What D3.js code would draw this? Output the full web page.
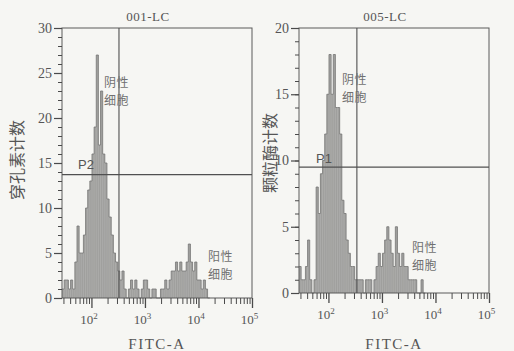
<!DOCTYPE html>
<html>
<head>
<meta charset="utf-8">
<script src="https://cdn.jsdelivr.net/npm/d3@7"></script>
<style>
  html, body { margin: 0; padding: 0; background: #f6f6f3; }
  svg { display: block; }
</style>
</head>
<body>
<svg id="chart" width="514" height="351"></svg>
<script>
/* histogram binning, log10 of FITC-A */
const binStartLog = 1.45
const binWidthLog = 0.04

/* counts per bin */
const countsLC001 = [
  1, 2, 2, 1, 2, 1, 4, 8, 5, 5, 7, 10, 12, 13, 16, 19, 27, 17, 23, 16,
  15, 11, 9, 7, 5, 4, 3, 2, 3, 1, 0, 1, 2, 1, 2, 1, 0, 1, 2, 2,
  1, 0, 1, 1, 0, 0, 1, 1, 2, 1, 2, 3, 3, 4, 3, 4, 3, 3, 4, 6,
  4, 3, 4, 2, 2, 1, 2, 1, 0
]
const countsLC005 = [
  2, 1, 1, 2, 4, 1, 0, 1, 8, 6, 9, 10, 12, 15, 18, 15, 18, 14, 14, 12,
  7, 6, 4, 3, 2, 2, 1, 1, 1, 1, 0, 1, 1, 1, 0, 1, 2, 3, 2, 3,
  4, 5, 4, 3, 2, 5, 3, 2, 3, 2, 2, 1, 1, 1, 1, 0, 0, 1, 0
]

const titles = ["001-LC", "005-LC"]
const yLabels = ["穿孔素计数", "颗粒酶计数"]
const yMax = [30, 20]
const gateCount = [13.7, 9.5]
const gateFitc = [327, 340]
const gateNames = ["P2", "P1"]
const xMajorTicks = [1e2, 1e3, 1e4, 1e5]
const xMajorExp = ["2", "3", "4", "5"]

/* Chart layout for the two panels */
const panels = [
  { left: 62, right: 252, top: 28, bottom: 298, counts: countsLC001,
    neg: [104, 87], pos: [208, 261], ylab: 17, ylabY: 160, gateLab: [78, 169] },
  { left: 299, right: 489, top: 28, bottom: 293, counts: countsLC005,
    neg: [342, 84], pos: [412, 252], ylab: 270, ylabY: 153, gateLab: [316, 163] }
]

const ink = "#4a4a4a"
const serif = "'Liberation Serif', 'DejaVu Serif', serif"
const cjk = "'Noto Sans CJK SC', sans-serif"

const svg = d3.select("#chart")

function drawPanel(p, k) {
  const g = svg.append("g")
  const x = d3.scaleLog([Math.pow(10, binStartLog), 1e5], [p.left, p.right])
  const y = d3.scaleLinear([0, yMax[k]], [p.bottom, p.top])

  /* histogram as a step area */
  const bins = p.counts.map((c, i) => [Math.pow(10, binStartLog + i * binWidthLog), c])
  bins.push([Math.pow(10, binStartLog + p.counts.length * binWidthLog), 0])

  const area = d3.area()
  .x(d => x(d[0]))
  .y0(y(0))
  .y1(d => y(d[1]))
  .curve(d3.curveStepAfter)

  const line = d3.line()
  .x(d => x(d[0]))
  .y(d => y(d[1]))
  .curve(d3.curveStepAfter)

  g.append("path")
  .attr("fill", "#ababa9")
  .attr("d", area(bins))

  /* thin darker strokes inside the bars, like the scanned spikes */
  g.append("g")
  .selectAll("line")
  .data(bins.filter(d => d[1] > 0))
  .join("line")
  .attr("x1", d => x(d[0] * Math.pow(10, binWidthLog / 2)))
  .attr("x2", d => x(d[0] * Math.pow(10, binWidthLog / 2)))
  .attr("y1", y(0))
  .attr("y2", d => y(d[1]))
  .attr("stroke", "#939391")
  .attr("stroke-width", 0.5)

  g.append("path")
  .attr("fill", "none")
  .attr("stroke", "#757573")
  .attr("stroke-width", 0.8)
  .attr("d", line(bins))

  /* plot frame */
  g.append("rect")
  .attr("x", p.left)
  .attr("y", p.top)
  .attr("width", p.right - p.left)
  .attr("height", p.bottom - p.top)
  .attr("fill", "none")
  .attr("stroke", "#5a5a5a")
  .attr("stroke-width", 1)

  /* gate lines */
  g.append("line")
  .attr("x1", p.left).attr("x2", p.right)
  .attr("y1", y(gateCount[k])).attr("y2", y(gateCount[k]))
  .attr("stroke", "#505050").attr("stroke-width", 1.3)
  g.append("line")
  .attr("x1", x(gateFitc[k])).attr("x2", x(gateFitc[k]))
  .attr("y1", p.top).attr("y2", p.bottom)
  .attr("stroke", "#505050").attr("stroke-width", 1.1)

  /* y axis: minor ticks each count, major every 5 */
  g.append("g")
  .attr("transform", `translate(${p.left},0)`)
  .call(d3.axisLeft(y).tickValues(d3.range(0, yMax[k] + 1)).tickSize(4).tickFormat(""))
  .call(a => a.select(".domain").remove())
  .call(a => a.selectAll(".tick line").attr("stroke", ink))

  g.append("g")
  .attr("transform", `translate(${p.left},0)`)
  .call(d3.axisLeft(y).tickValues(d3.range(0, yMax[k] + 1, 5)).tickSize(8).tickPadding(2))
  .call(a => a.select(".domain").remove())
  .call(a => a.selectAll(".tick line").attr("stroke", ink).attr("stroke-width", 1.2))
  .call(a => a.selectAll(".tick text")
    .attr("font-family", serif).attr("font-size", 14).attr("fill", "#555"))

  /* x axis: minor ticks 2..9 per decade, decades labelled 10^n */
  const minor = []
  for (let e = 1; e < 5; e++) {
    for (let m = 2; m <= 9; m++) {
      const v = m * Math.pow(10, e)
      if (v >= x.domain()[0] && v <= 1e5) minor.push(v)
    }
  }
  g.append("g")
  .attr("transform", `translate(0,${p.bottom})`)
  .call(d3.axisBottom(x).tickValues(minor).tickSize(6).tickFormat(""))
  .call(a => a.select(".domain").remove())
  .call(a => a.selectAll(".tick line").attr("stroke", ink))

  const xMaj = g.append("g")
  .attr("transform", `translate(0,${p.bottom})`)
  .call(d3.axisBottom(x).tickValues(xMajorTicks).tickSize(10).tickPadding(7).tickFormat(""))
  .call(a => a.select(".domain").remove())
  .call(a => a.selectAll(".tick line").attr("stroke", ink).attr("stroke-width", 1.3))

  xMaj.selectAll(".tick text")
  .attr("font-family", serif).attr("font-size", 13).attr("fill", "#555")
  .attr("dx", -3)
  .each(function(d, i) {
    const t = d3.select(this)
    t.append("tspan").text("10")
    t.append("tspan").attr("dy", -5).attr("font-size", 9).text(xMajorExp[i])
  })

  /* axis titles */
  g.append("text")
  .attr("x", (p.left + p.right) / 2 - 9)
  .attr("y", 21)
  .attr("text-anchor", "middle")
  .attr("font-family", serif)
  .attr("font-size", 13)
  .attr("fill", "#555")
  .attr("letter-spacing", 0.5)
  .text(titles[k])

  g.append("text")
  .attr("x", (p.left + p.right) / 2)
  .attr("y", 349)
  .attr("text-anchor", "middle")
  .attr("font-family", serif)
  .attr("font-size", 15)
  .attr("fill", "#555")
  .attr("letter-spacing", 1.5)
  .text("FITC-A")

  g.append("text")
  .attr("transform", `translate(${p.ylab},${p.ylabY}) rotate(-90)`)
  .attr("text-anchor", "middle")
  .attr("dy", "0.35em")
  .attr("font-family", cjk)
  .attr("font-size", 16)
  .attr("fill", "#555")
  .text(yLabels[k])

  /* region notes, one text per line */
  const note = (pos, lines) => {
    g.append("g")
    .selectAll("text")
    .data(lines)
    .join("text")
    .attr("x", pos[0])
    .attr("y", (d, i) => pos[1] + i * 17.6)
    .attr("font-family", cjk)
    .attr("font-size", 12)
    .attr("letter-spacing", 0.5)
    .attr("fill", "#707070")
    .text(d => d)
  }
  note(p.neg, ["阴性", "细胞"])
  note(p.pos, ["阳性", "细胞"])

  g.append("text")
  .attr("x", p.gateLab[0])
  .attr("y", p.gateLab[1])
  .attr("font-family", "'Liberation Sans', sans-serif")
  .attr("font-size", 13)
  .attr("fill", "#555")
  .text(gateNames[k])
}

panels.forEach(drawPanel)
</script>
</body>
</html>
